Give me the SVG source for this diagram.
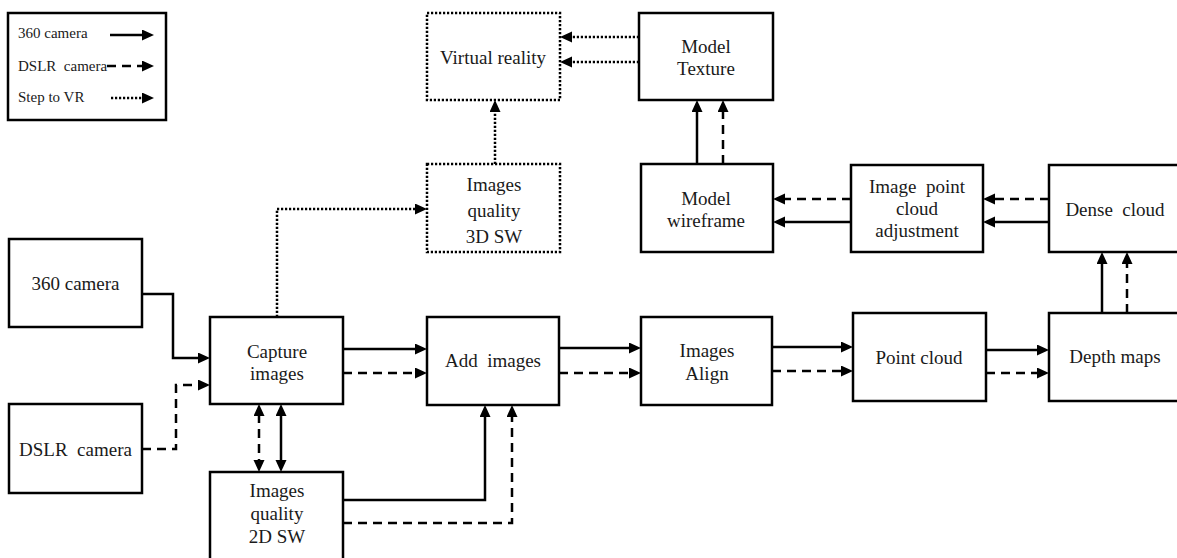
<svg xmlns="http://www.w3.org/2000/svg" width="1177" height="558" viewBox="0 0 1177 558">
<style>
  text{font-family:'Liberation Serif','Times New Roman',Times,'DejaVu Serif',serif}
  .box{fill:#fff;stroke:#000;stroke-width:2.5}
  .dotbox{fill:#fff;stroke:#000;stroke-width:2.5;stroke-dasharray:2.2 1.8}
  .t{font-size:19px;fill:#1a1a1a;text-anchor:middle}
  .lt{font-size:15px;fill:#1a1a1a}
  .c{fill:none;stroke:#000;stroke-width:2.5}
  .solid{marker-end:url(#ah)}
  .dash{stroke-dasharray:9 6;marker-end:url(#ah)}
  .dot{stroke-dasharray:2.2 1.8;marker-end:url(#ah)}
  .both{marker-start:url(#ah);marker-end:url(#ah)}
</style>
<defs>
  <marker id="ah" markerUnits="userSpaceOnUse" markerWidth="14" markerHeight="12" refX="2" refY="5.5" orient="auto-start-reverse">
    <path d="M0,0 L12,5.5 L0,11 z" fill="#000"/>
  </marker>
</defs>
<rect width="1177" height="558" fill="#fff"/>
<g id="legend">
  <rect x="8" y="13" width="158" height="107" fill="#fff" stroke="#000" stroke-width="2.5"/>
  <text class="lt" x="18" y="38">360 camera</text>
  <text class="lt" x="18" y="71" xml:space="preserve">DSLR  camera</text>
  <text class="lt" x="18" y="102">Step to VR</text>
  <path class="c solid" d="M110,35 H144"/>
  <path class="c dash" d="M107,66 H144"/>
  <path class="c dot" d="M111,98 H144"/>
</g>

<g id="connectors">
  <path class="c solid" d="M142,294 H173 V358 H200"/>
  <path class="c dash" d="M142,449 H176 V385 H200"/>
  <path class="c both" d="M259,414 V462" stroke-dasharray="9 6"/>
  <path class="c both" d="M281,414 V462"/>
  <path class="c dot" d="M277,317 V209 H417"/>
  <path class="c dot" d="M495,164 V110"/>
  <path class="c dot" d="M639,37 H570"/>
  <path class="c dot" d="M639,62 H570"/>
  <path class="c solid" d="M697,164 V110"/>
  <path class="c dash" d="M723,164 V110"/>
  <path class="c dash" d="M851,199 H783"/>
  <path class="c solid" d="M851,222 H783"/>
  <path class="c dash" d="M1049,199 H993"/>
  <path class="c solid" d="M1049,222 H993"/>
  <path class="c solid" d="M1102,313 V262"/>
  <path class="c dash" d="M1127,313 V262"/>
  <path class="c solid" d="M343,349 H417"/>
  <path class="c dash" d="M343,373 H417"/>
  <path class="c solid" d="M343,500 H485 V415"/>
  <path class="c dash" d="M343,523 H512 V415"/>
  <path class="c solid" d="M559,348 H631"/>
  <path class="c dash" d="M559,373 H631"/>
  <path class="c solid" d="M772,347 H843"/>
  <path class="c dash" d="M772,371 H843"/>
  <path class="c solid" d="M986,350 H1039"/>
  <path class="c dash" d="M986,373 H1039"/>
</g>

<g id="n360">
  <rect class="box" x="9" y="239" width="133" height="88"/>
  <text class="t" x="75.5" y="290">360 camera</text>
</g>
<g id="dslr">
  <rect class="box" x="9" y="404" width="133" height="89"/>
  <text class="t" x="75.5" y="456" xml:space="preserve">DSLR  camera</text>
</g>
<g id="capture">
  <rect class="box" x="210" y="317" width="133" height="87"/>
  <text class="t" x="277" y="358">Capture</text>
  <text class="t" x="277" y="380">images</text>
</g>
<g id="quality2d">
  <rect class="box" x="210" y="472" width="133" height="100"/>
  <text class="t" x="277" y="497">Images</text>
  <text class="t" x="277" y="520">quality</text>
  <text class="t" x="277" y="543">2D SW</text>
</g>
<g id="quality3d">
  <rect class="dotbox" x="427" y="164" width="133" height="88"/>
  <text class="t" x="494" y="191">Images</text>
  <text class="t" x="494" y="217">quality</text>
  <text class="t" x="494" y="243">3D SW</text>
</g>
<g id="vr">
  <rect class="dotbox" x="427" y="13" width="133" height="87"/>
  <text class="t" x="493" y="64">Virtual reality</text>
</g>
<g id="texture">
  <rect class="box" x="639" y="13" width="134" height="87"/>
  <text class="t" x="706" y="53">Model</text>
  <text class="t" x="706" y="75">Texture</text>
</g>
<g id="wireframe">
  <rect class="box" x="641" y="164" width="132" height="88"/>
  <text class="t" x="706" y="205">Model</text>
  <text class="t" x="706" y="227">wireframe</text>
</g>
<g id="ipca">
  <rect class="box" x="851" y="165" width="132" height="87"/>
  <text class="t" x="917" y="193" xml:space="preserve">Image  point</text>
  <text class="t" x="917" y="215">cloud</text>
  <text class="t" x="917" y="237">adjustment</text>
</g>
<g id="dense">
  <rect class="box" x="1049" y="165" width="135" height="87"/>
  <text class="t" x="1115" y="216" xml:space="preserve">Dense  cloud</text>
</g>
<g id="add">
  <rect class="box" x="427" y="317" width="132" height="88"/>
  <text class="t" x="493" y="367" xml:space="preserve">Add  images</text>
</g>
<g id="align">
  <rect class="box" x="641" y="317" width="131" height="88"/>
  <text class="t" x="707" y="357">Images</text>
  <text class="t" x="707" y="380">Align</text>
</g>
<g id="pointcloud">
  <rect class="box" x="853" y="313" width="133" height="88"/>
  <text class="t" x="919" y="364">Point cloud</text>
</g>
<g id="depth">
  <rect class="box" x="1049" y="313" width="135" height="88"/>
  <text class="t" x="1115" y="363">Depth maps</text>
</g>
</svg>
